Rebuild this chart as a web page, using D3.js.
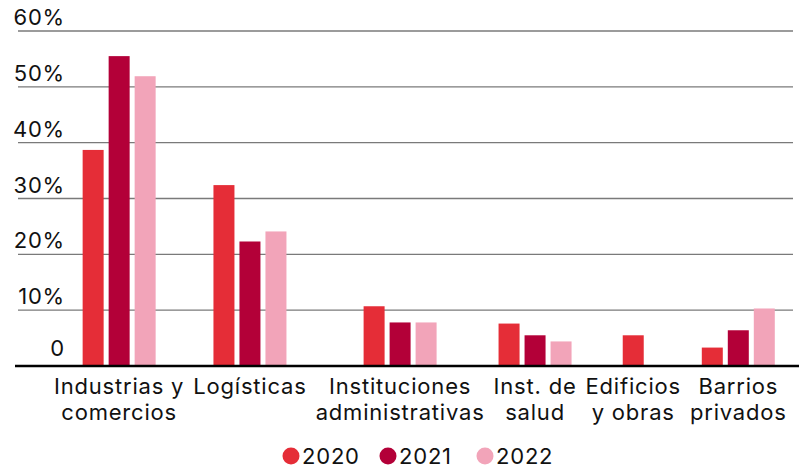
<!DOCTYPE html>
<html lang="es">
<head>
<meta charset="utf-8">
<title>Distribución por sector</title>
<script src="https://cdn.jsdelivr.net/npm/d3@7"></script>
<style>
	html, body {
		margin: 0;
		padding: 0;
		background: #fff;
	}
	#chart text {
		font-family: Inter, 'Noto Sans', sans-serif;
		font-size: 22px;
		letter-spacing: 0.8px;
		fill: #111;
	}
</style>
</head>
<body>
<div id="chart"></div>
<script>
/* global d3 */

const categories = [
	'Industrias y\ncomercios',
	'Logísticas',
	'Instituciones\nadministrativas',
	'Inst. de\nsalud',
	'Edificios\ny obras',
	'Barrios\nprivados',
];
const years = [ '2020', '2021', '2022' ];
const values2020 = [ 38.7, 32.4, 10.7, 7.6, 5.5, 3.3 ];
const values2021 = [ 55.5, 22.3, 7.8, 5.5, null, 6.4 ];
const values2022 = [ 51.9, 24.1, 7.8, 4.4, null, 10.3 ];
const yTicks = [ 0, 10, 20, 30, 40, 50, 60 ];
const yTickLabels = [ '0', '10%', '20%', '30%', '40%', '50%', '60%' ];

/**
 * Grouped bar chart class
 */
class GroupedBarChart {
	/**
	 * @param {string} selector - Container selector
	 */
	constructor( selector ) {
		this.selector = selector;
		this.config = {
			width: 799,
			height: 470,
			labelStart: 54,
			labelGap: 9,
			groupStep: 26,
			barGap: 5,
			legendStep: 97,
		};
		this.series = [ values2020, values2021, values2022 ];
		this.colors = d3.scaleOrdinal()
			.domain( years )
			.range( [ '#e52d37', '#b30038', '#f2a4b9' ] );

		this.createSVG();
		this.setupScales();
		this.drawGrid();
		this.drawBars();
		this.drawBaseline();
		this.drawLegend();
	}

	/**
	 * Create SVG container and layers
	 */
	createSVG() {
		const { width, height } = this.config;
		this.svg = d3.select( this.selector )
			.append( 'svg' )
			.attr( 'width', width )
			.attr( 'height', height );

		this.gridLayer = this.svg.append( 'g' ).attr( 'class', 'grid' );
		this.barLayer = this.svg.append( 'g' ).attr( 'class', 'bars' );
		this.axisLayer = this.svg.append( 'g' ).attr( 'class', 'axis' );
	}

	/**
	 * Category labels are measured first, each group takes the width of its label
	 */
	setupScales() {
		const { labelStart, labelGap } = this.config;

		this.labels = this.axisLayer.append( 'g' )
			.attr( 'class', 'x-labels' )
			.selectAll( 'text' )
			.data( categories )
			.enter()
			.append( 'text' )
			.attr( 'text-anchor', 'middle' )
			.attr( 'y', 394 );

		this.labels.selectAll( 'tspan' )
			.data( ( d ) => d.split( '\n' ) )
			.enter()
			.append( 'tspan' )
			.attr( 'x', 0 )
			.attr( 'dy', ( d, i ) => ( i === 0 ? 0 : 26 ) )
			.text( ( d ) => d );

		const centers = [];
		let cursor = labelStart;
		this.labels.each( function() {
			const w = d3.max( Array.from( this.querySelectorAll( 'tspan' ) ), ( t ) => t.getComputedTextLength() );
			centers.push( cursor + ( w / 2 ) );
			cursor += w + labelGap;
		} );

		this.x = d3.scaleOrdinal()
			.domain( categories )
			.range( centers );

		this.y = d3.scaleLinear()
			.domain( [ 0, 60 ] )
			.range( [ 366, 31 ] );

		this.labels.attr( 'transform', ( d ) => `translate(${ this.x( d ) },0)` );
	}

	/**
	 * Gridlines and y labels
	 */
	drawGrid() {
		this.gridLayer.selectAll( 'line' )
			.data( yTicks.filter( ( t ) => t > 0 ) )
			.enter()
			.append( 'line' )
			.attr( 'x1', 18 )
			.attr( 'x2', 793 )
			.attr( 'y1', ( d ) => this.y( d ) )
			.attr( 'y2', ( d ) => this.y( d ) )
			.attr( 'stroke', '#7a7a7a' )
			.attr( 'stroke-width', 1.3 );

		this.gridLayer.selectAll( 'text' )
			.data( yTicks )
			.enter()
			.append( 'text' )
			.attr( 'x', 65 )
			.attr( 'y', ( d ) => this.y( d ) - ( d === 0 ? 10 : 6 ) )
			.attr( 'text-anchor', 'end' )
			.text( ( d, i ) => yTickLabels[ i ] );
	}

	/**
	 * Bars, missing years are dropped and the rest centred on the group
	 */
	drawBars() {
		const { groupStep, barGap } = this.config;

		categories.forEach( ( cat, ci ) => {
			const present = years.filter( ( yr, si ) => this.series[ si ][ ci ] !== null );
			const w = ( present.length * groupStep ) - barGap;
			const inner = d3.scaleBand()
				.domain( present )
				.range( [ -w / 2, w / 2 ] )
				.paddingInner( present.length > 1 ? barGap / groupStep : 0 );

			this.barLayer.selectAll( null )
				.data( present.map( ( yr ) => ( { yr, value: this.series[ years.indexOf( yr ) ][ ci ] } ) ) )
				.enter()
				.append( 'rect' )
				.attr( 'x', ( d ) => this.x( cat ) + inner( d.yr ) )
				.attr( 'width', inner.bandwidth() )
				.attr( 'y', ( d ) => this.y( d.value ) )
				.attr( 'height', ( d ) => this.y( 0 ) - this.y( d.value ) )
				.attr( 'fill', ( d ) => this.colors( d.yr ) );
		} );
	}

	/**
	 * Black zero line
	 */
	drawBaseline() {
		this.axisLayer.append( 'line' )
			.attr( 'x1', 15 )
			.attr( 'x2', 799 )
			.attr( 'y1', this.y( 0 ) )
			.attr( 'y2', this.y( 0 ) )
			.attr( 'stroke', '#000' )
			.attr( 'stroke-width', 2.5 );
	}

	/**
	 * Legend with dots at the bottom
	 */
	drawLegend() {
		const { legendStep } = this.config;
		const item = this.svg.append( 'g' )
			.attr( 'class', 'legend' )
			.selectAll( 'g' )
			.data( years )
			.enter()
			.append( 'g' )
			.attr( 'transform', ( d, i ) => `translate(${ 291 + ( i * legendStep ) },456)` );

		item.append( 'circle' )
			.attr( 'r', 8.5 )
			.attr( 'fill', ( d ) => this.colors( d ) );

		item.append( 'text' )
			.attr( 'x', 11 )
			.attr( 'y', 8 )
			.text( ( d ) => d );
	}
}

new GroupedBarChart( '#chart' );
</script>
</body>
</html>
